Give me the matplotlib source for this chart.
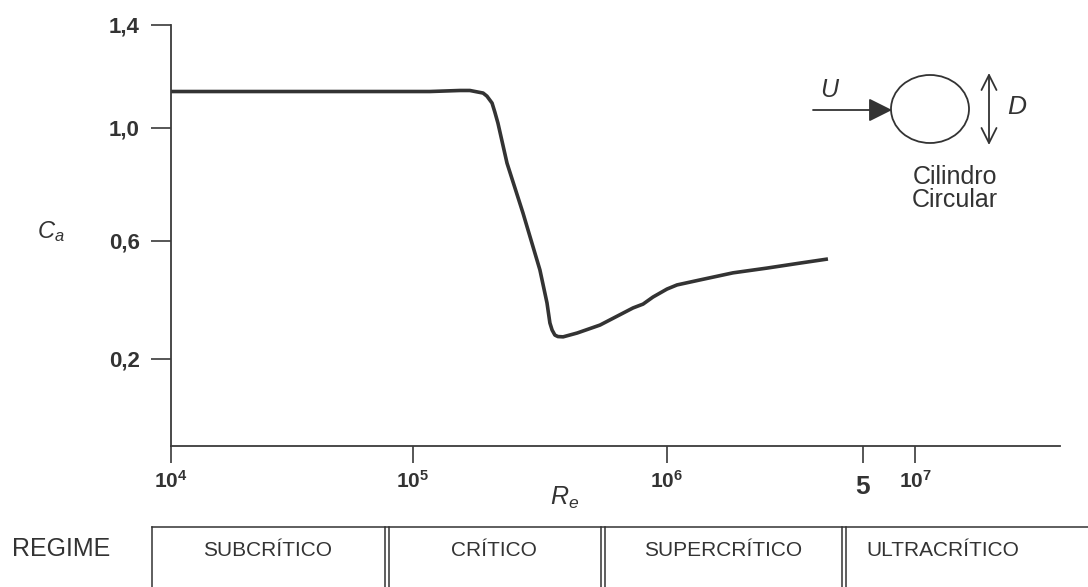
import numpy as np
import matplotlib.pyplot as plt
from matplotlib.patches import Ellipse
from matplotlib.ticker import NullLocator

plt.rcParams['font.family'] = 'Liberation Sans'
plt.rcParams['mathtext.fontset'] = 'custom'
plt.rcParams['mathtext.rm'] = 'Liberation Sans'
plt.rcParams['mathtext.it'] = 'Liberation Sans:italic'
plt.rcParams['mathtext.bf'] = 'Liberation Sans:bold'

# curva C_a x Re
re = [1.0e4, 1.166e5, 1.53e5, 1.675e5, 1.888e5, 1.955e5, 2.048e5, 2.10e5, 2.16e5,
      2.345e5, 2.71e5, 3.16e5, 3.37e5, 3.46e5, 3.53e5, 3.62e5, 3.72e5, 3.90e5,
      4.43e5, 5.45e5, 7.35e5, 8.05e5, 8.81e5, 1.0e6, 1.086e6, 1.312e6, 1.72e6,
      2.27e6, 2.98e6, 3.75e6]
ca = [1.141, 1.141, 1.145, 1.145, 1.135, 1.123, 1.096, 1.061, 1.018,
      0.875, 0.699, 0.502, 0.390, 0.322, 0.298, 0.281, 0.276, 0.275,
      0.288, 0.315, 0.373, 0.386, 0.410, 0.437, 0.451, 0.468, 0.492,
      0.508, 0.525, 0.539]

yticks = [0.2, 0.6, 1.0, 1.4]
ylabels = ['0,2', '0,6', '1,0', '1,4']
xticks = [1e4, 1e5, 1e6, 5e6, 1e7]
xlabels = [r'$\mathbf{10^{4}}$', r'$\mathbf{10^{5}}$', r'$\mathbf{10^{6}}$', '5',
           r'$\mathbf{10^{7}}$']
regimes = ['SUBCRÍTICO', 'CRÍTICO', 'SUPERCRÍTICO', 'ULTRACRÍTICO']

# escalas do desenho original (nao exatamente uniformes)
y_vals = [-0.095, 0.2, 0.6, 1.0, 1.4]
y_pos = [0.0, 0.2067, 0.487, 0.756, 1.0]
x_logs = [4, 5, 6, np.log10(5e6), 7, 7.585]
x_pos = [0.0, 0.2722, 0.5579, 0.7784, 0.8369, 1.0]


def pl(x, xp, fp):
    x = np.asarray(x, dtype=float)
    shp = x.shape
    x = np.atleast_1d(x)
    y = np.interp(x, xp, fp)
    lo = x < xp[0]
    hi = x > xp[-1]
    y[lo] = fp[0] + (x[lo] - xp[0]) * (fp[1] - fp[0]) / (xp[1] - xp[0])
    y[hi] = fp[-1] + (x[hi] - xp[-1]) * (fp[-1] - fp[-2]) / (xp[-1] - xp[-2])
    return y.reshape(shp)


def fx(x):
    with np.errstate(divide='ignore', invalid='ignore'):
        lx = np.log10(np.clip(np.asarray(x, dtype=float), 1e-300, None))
    return pl(lx, x_logs, x_pos)


def fx_inv(p):
    return 10 ** pl(p, x_pos, x_logs)


def fy(v):
    return pl(v, y_vals, y_pos)


def fy_inv(p):
    return pl(p, y_pos, y_vals)


W, H = 1088, 587
fig = plt.figure(figsize=(W / 100, H / 100), dpi=100)
ax = fig.add_axes([171 / W, (H - 446) / H, (1060 - 171) / W, (446 - 25) / H])
ax.set_xscale('function', functions=(fx, fx_inv))
ax.set_yscale('function', functions=(fy, fy_inv))
ax.set_xlim(1e4, 10 ** 7.585)
ax.set_ylim(-0.095, 1.4)

cor = '#333333'
ax.plot(re, ca, color=cor, lw=2.6, solid_capstyle='butt', solid_joinstyle='round')

for s in ['top', 'right']:
    ax.spines[s].set_visible(False)
for s in ['left', 'bottom']:
    ax.spines[s].set_linewidth(1.3)
    ax.spines[s].set_color('#3a3a3a')

ax.set_yticks(yticks, ylabels, fontsize=16, fontweight='bold', color=cor)
ax.set_xticks(xticks, xlabels, fontsize=15, color=cor)
ax.xaxis.set_minor_locator(NullLocator())
ax.yaxis.set_minor_locator(NullLocator())
ax.tick_params(axis='y', direction='out', length=14.4, width=1.2, pad=8, color='#3a3a3a')
ax.tick_params(axis='x', direction='out', length=12.2, width=1.2, pad=5, color='#3a3a3a')
lb = ax.get_xticklabels()
lb[3].set_fontsize(19)
lb[3].set_fontweight('bold')
t5 = ax.xaxis.get_major_ticks()[3]
t5.tick1line.set_markersize(14.5)
t5.set_pad(9)

# camada em pixels para rotulos, esquema e tabela
ov = fig.add_axes([0, 0, 1, 1])
ov.set_xlim(0, W)
ov.set_ylim(H, 0)
ov.axis('off')
ov.patch.set_visible(False)

ov.text(37, 238, r'$C_a$', fontsize=17, color=cor, ha='left', va='baseline')
ov.text(550, 505, r'$R_e$', fontsize=18, color=cor, ha='left', va='baseline')

# esquema do cilindro
ov.add_patch(Ellipse((930, 109), 78, 68, fill=False, lw=1.3, ec=cor))
ov.annotate('', xy=(892, 110), xytext=(813, 110),
            arrowprops=dict(arrowstyle='-|>,head_length=0.8,head_width=0.4',
                            mutation_scale=18, lw=1.3, color=cor,
                            shrinkA=0, shrinkB=0))
ov.annotate('', xy=(989, 73), xytext=(989, 145),
            arrowprops=dict(arrowstyle='<->,head_length=0.6,head_width=0.3',
                            mutation_scale=18, lw=1.3, color=cor,
                            shrinkA=0, shrinkB=0))
ov.text(829, 90, 'U', fontsize=18, style='italic', color=cor, ha='center', va='center')
ov.text(1017, 107, 'D', fontsize=19, style='italic', color=cor, ha='center', va='center')
ov.text(955, 177, 'Cilindro', fontsize=18, color=cor, ha='center', va='center')
ov.text(955, 200, 'Circular', fontsize=18, color=cor, ha='center', va='center')

# tabela de regimes
ov.text(12, 549, 'REGIME', fontsize=18, color=cor, ha='left', va='center')
ov.plot([152, W], [527, 527], color=cor, lw=1.1)
ov.plot([152, 152], [527, H], color=cor, lw=1.1)
for xb in [385, 601, 842]:
    ov.plot([xb, xb], [527, H], color=cor, lw=1.1)
    ov.plot([xb + 3.5, xb + 3.5], [527, H], color=cor, lw=1.1)
for nome, xc in zip(regimes, [268, 494, 723, 943]):
    ov.text(xc, 550, nome, fontsize=15, color=cor, ha='center', va='center')

fig.savefig('out.png', dpi=100)
